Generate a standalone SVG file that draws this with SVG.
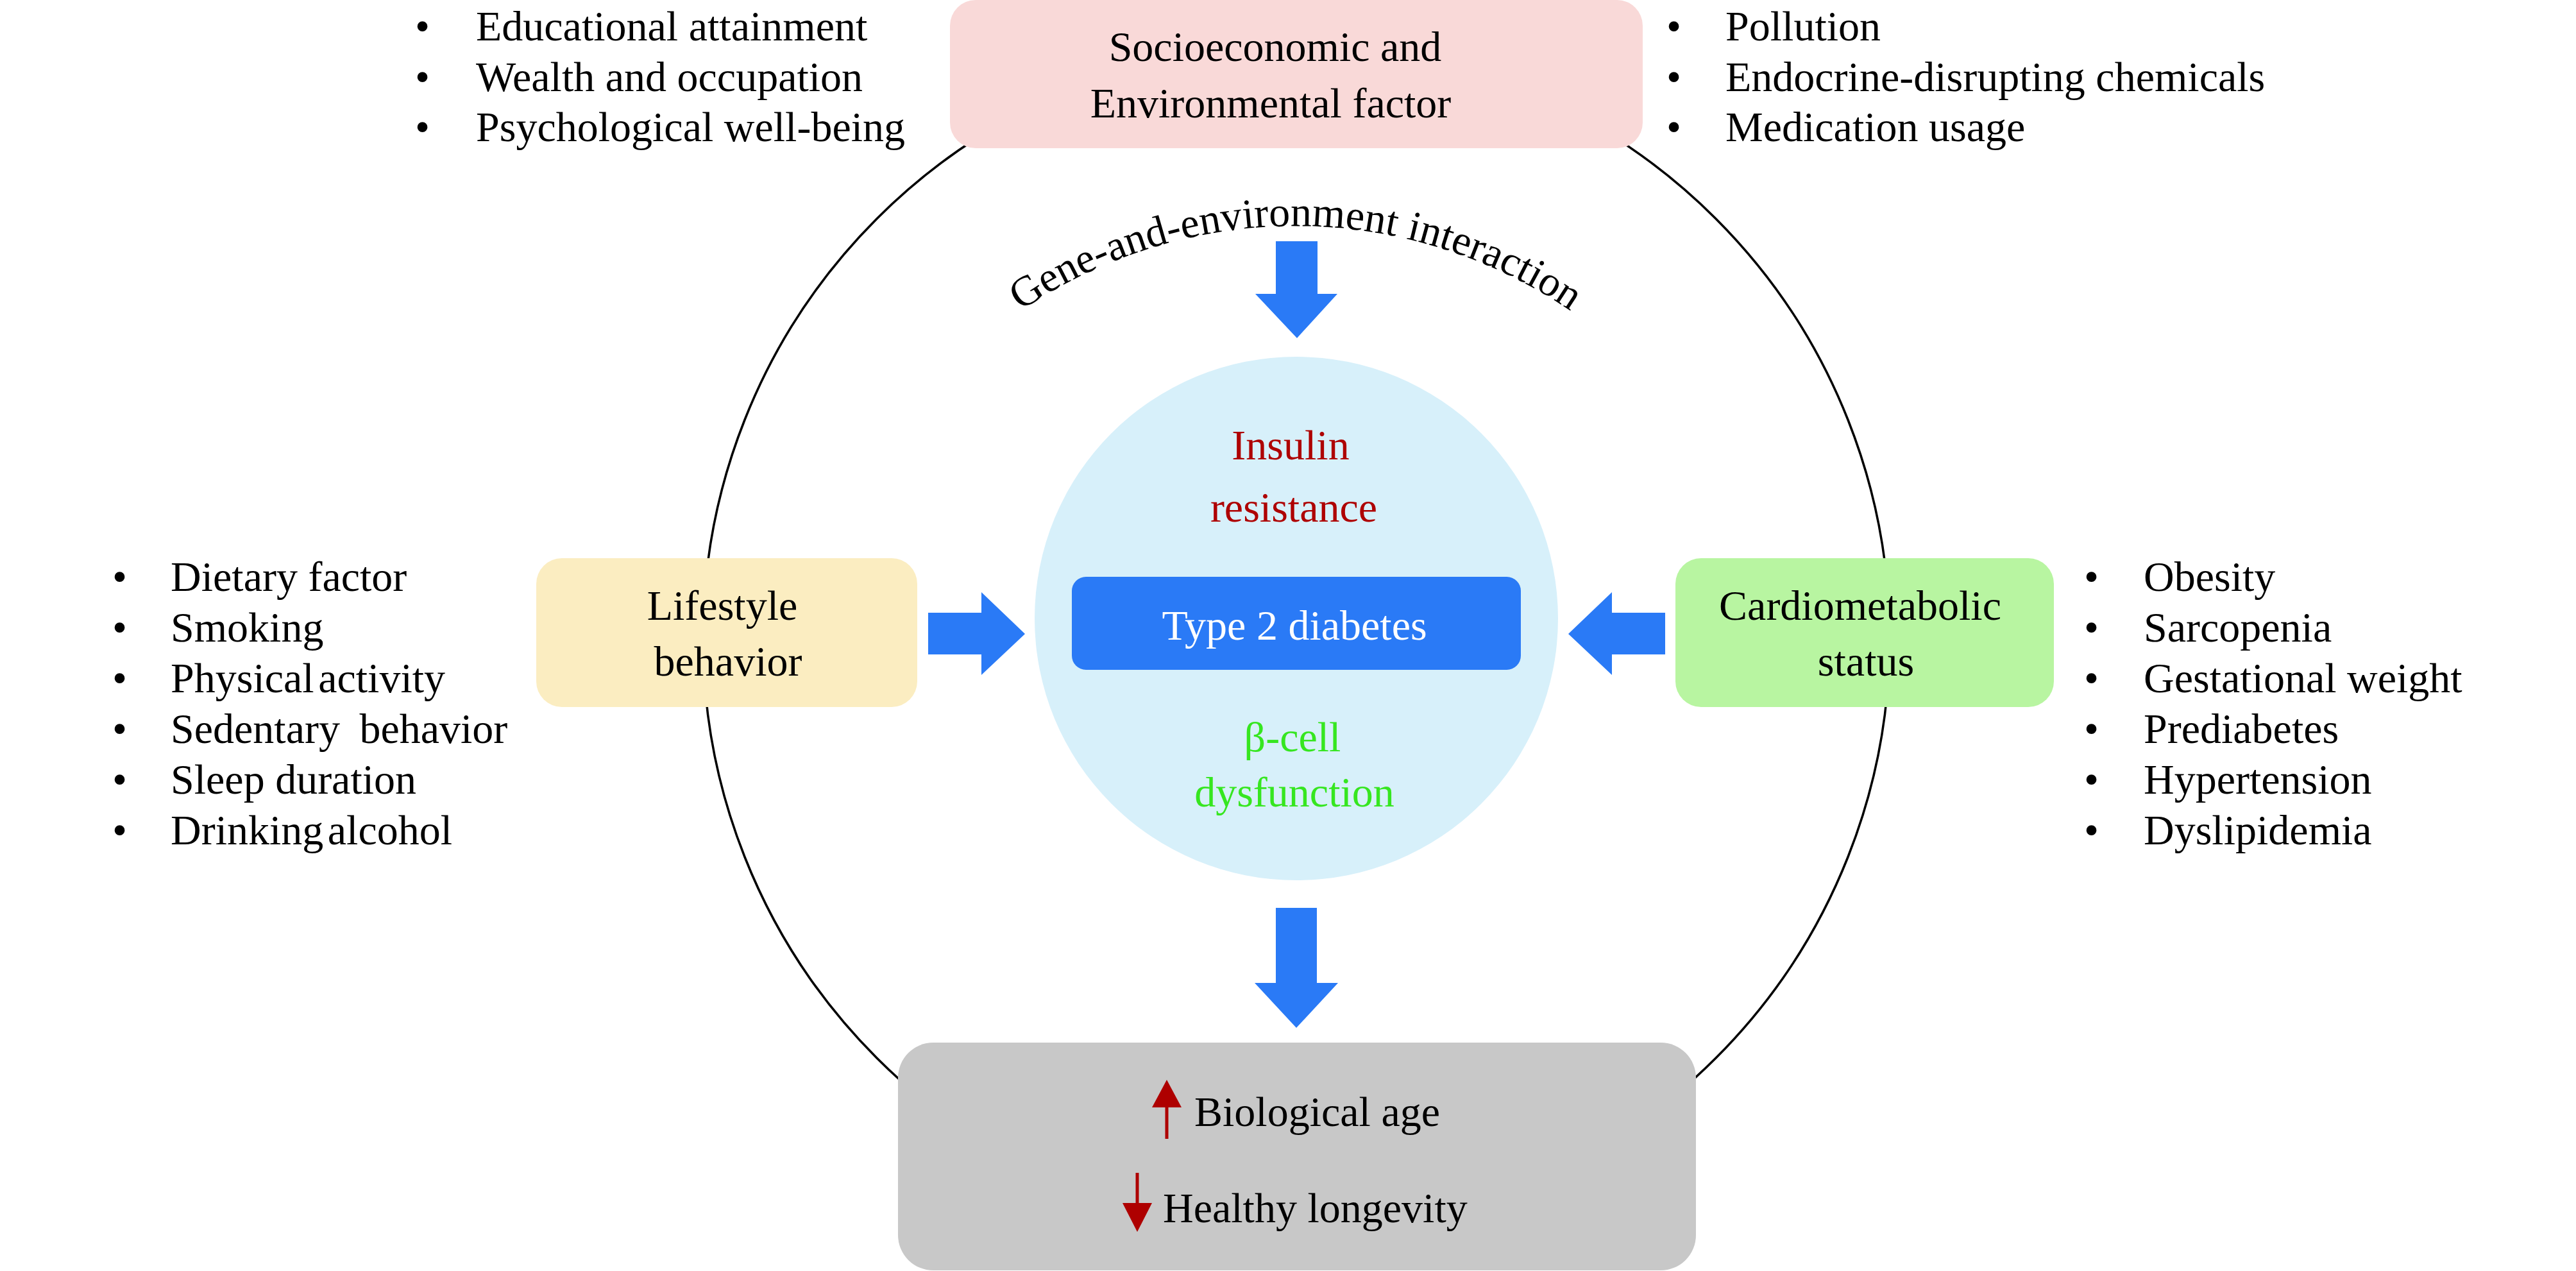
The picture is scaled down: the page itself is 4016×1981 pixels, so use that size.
<svg xmlns="http://www.w3.org/2000/svg" width="4016" height="1981" viewBox="0 0 4016 1981">
<style>
text{font-family:"Liberation Serif","Times New Roman",serif;font-size:66px;fill:#000}
.c{text-anchor:middle}
.w{fill:#fff}
.red{fill:#ae0000}
.grn{fill:#36e620}
.blue{fill:#2a7af6}
</style>
<defs>
<path id="arcPath" d="M1362,732 A760,760 0 0 1 2678,732"/>
</defs>
<rect width="4016" height="1981" fill="#fff"/>
<g id="outer-ring">
<circle cx="2021" cy="995" r="925" fill="none" stroke="#000" stroke-width="3.5"/>
</g>
<g id="core">
<circle cx="2021" cy="964" r="408" fill="#d7f0fa"/>
<text class="c red" x="2012" y="716">Insulin</text>
<text class="c red" x="2017" y="813">resistance</text>
<text class="c grn" x="2015" y="1171">β-cell</text>
<text class="c grn" x="2018" y="1257">dysfunction</text>
</g>
<g id="t2d">
<rect x="1671" y="899" width="700" height="145" rx="22" class="blue"/>
<text class="c w" x="2018" y="997">Type 2 diabetes</text>
</g>
<g id="socio">
<rect x="1481" y="0" width="1080" height="231" rx="40" fill="#f9d9d8"/>
<text class="c" x="1988" y="95">Socioeconomic and</text>
<text class="c" x="1981" y="183">Environmental factor</text>
</g>
<g id="socio-left-list">
<text x="647" y="63">•</text><text x="742" y="63">Educational attainment</text>
<text x="647" y="142">•</text><text x="742" y="142">Wealth and occupation</text>
<text x="647" y="220">•</text><text x="742" y="220">Psychological well-being</text>
</g>
<g id="socio-right-list">
<text x="2598" y="63">•</text><text x="2690" y="63">Pollution</text>
<text x="2598" y="142">•</text><text x="2690" y="142">Endocrine-disrupting chemicals</text>
<text x="2598" y="220">•</text><text x="2690" y="220">Medication usage</text>
</g>
<g id="gene-env">
<text><textPath href="#arcPath" startOffset="50%" text-anchor="middle">Gene-and-environment interaction</textPath></text>
</g>
<g id="lifestyle">
<rect x="836" y="870" width="594" height="232" rx="40" fill="#fbedc1"/>
<text class="c" x="1126" y="966">Lifestyle</text>
<text class="c" x="1135" y="1053">behavior</text>
</g>
<g id="lifestyle-list">
<text x="175" y="921">•</text><text x="266" y="921">Dietary factor</text>
<text x="175" y="1000">•</text><text x="266" y="1000">Smoking</text>
<text x="175" y="1079">•</text><text x="266" y="1079" word-spacing="-10">Physical activity</text>
<text x="175" y="1158">•</text><text x="266" y="1158" word-spacing="14">Sedentary behavior</text>
<text x="175" y="1237">•</text><text x="266" y="1237">Sleep duration</text>
<text x="175" y="1316">•</text><text x="266" y="1316" word-spacing="-10">Drinking alcohol</text>
</g>
<g id="cardio">
<rect x="2612" y="870" width="590" height="232" rx="40" fill="#b8f5a1"/>
<text class="c" x="2900" y="966">Cardiometabolic</text>
<text class="c" x="2909" y="1053">status</text>
</g>
<g id="cardio-list">
<text x="3249" y="921">•</text><text x="3342" y="921">Obesity</text>
<text x="3249" y="1000">•</text><text x="3342" y="1000">Sarcopenia</text>
<text x="3249" y="1079">•</text><text x="3342" y="1079">Gestational weight</text>
<text x="3249" y="1158">•</text><text x="3342" y="1158">Prediabetes</text>
<text x="3249" y="1237">•</text><text x="3342" y="1237">Hypertension</text>
<text x="3249" y="1316">•</text><text x="3342" y="1316">Dyslipidemia</text>
</g>
<g id="outcome">
<rect x="1400" y="1625" width="1244" height="355" rx="55" fill="#c8c8c8"/>
<path d="M1816.5,1775 V1726 H1796 L1819,1683 L1842,1726 H1821.5 V1775 Z" fill="#ae0000"/>
<text x="1862" y="1755">Biological age</text>
<path d="M1770.5,1828 V1875 H1750 L1773,1920 L1796,1875 H1775.5 V1828 Z" fill="#ae0000"/>
<text x="1813" y="1905">Healthy longevity</text>
</g>
<g id="connectors" class="blue">
<path d="M1989,376 H2054 V458 H2085 L2022,527 L1957,458 H1989 Z"/>
<path d="M1447,955 H1530 V923 L1598,988 L1530,1052 V1020 H1447 Z"/>
<path d="M2596,955 H2513 V923 L2445,988 L2513,1052 V1020 H2596 Z"/>
<path d="M1989,1415 H2053 V1532 H2086 L2021,1602 L1956,1532 H1989 Z"/>
</g>
</svg>
